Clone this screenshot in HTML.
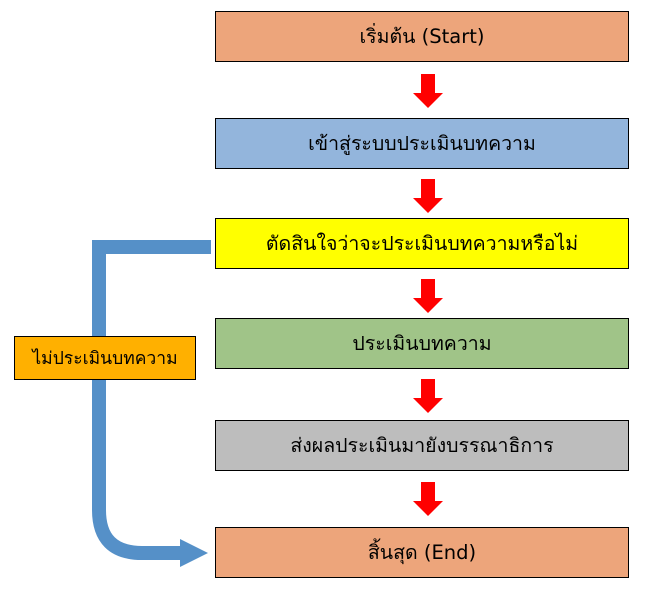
<!DOCTYPE html>
<html><head><meta charset="utf-8"><style>
body{margin:0;width:654px;height:594px;background:#fff;position:relative;overflow:hidden;font-family:"DejaVu Sans","Liberation Sans",sans-serif;}
.b{position:absolute;left:215px;width:412px;height:49px;border:1.5px solid #000;display:flex;align-items:center;justify-content:center;font-size:19.5px;color:#000;box-sizing:content-box}
svg{position:absolute;left:0;top:0}
</style></head><body>
<svg width="654" height="594">
<g fill="#ff0000">
<polygon points="421,74 435,74 435,93 443,93 428,108 413,93 421,93"/>
<polygon points="421,179 435,179 435,198 443,198 428,213 413,198 421,198"/>
<polygon points="421,279 435,279 435,298 443,298 428,313 413,298 421,298"/>
<polygon points="421,379 435,379 435,398 443,398 428,413 413,398 421,398"/>
<polygon points="421,482 435,482 435,501 443,501 428,516 413,501 421,501"/>
</g>
<path d="M211,247 L99,247 L99,510 Q99,553 142,553 L184,553" fill="none" stroke="#5590c8" stroke-width="14"/>
<polygon points="180,539 208,553 180,567" fill="#5590c8"/>
</svg>
<div class="b" style="top:11px;background:#eda57b">เริ่มต้น (Start)</div>
<div class="b" style="top:118px;background:#93b5dc">เข้าสู่ระบบประเมินบทความ</div>
<div class="b" style="top:218px;background:#ffff00">ตัดสินใจว่าจะประเมินบทความหรือไม่</div>
<div class="b" style="top:318px;background:#a0c488">ประเมินบทความ</div>
<div class="b" style="top:420px;background:#bdbdbd">ส่งผลประเมินมายังบรรณาธิการ</div>
<div class="b" style="top:527px;background:#eda57b">สิ้นสุด (End)</div>
<div class="b" style="left:14px;width:180px;height:42px;top:336px;background:#ffb000;font-size:17.5px">ไม่ประเมินบทความ</div>
</body></html>
